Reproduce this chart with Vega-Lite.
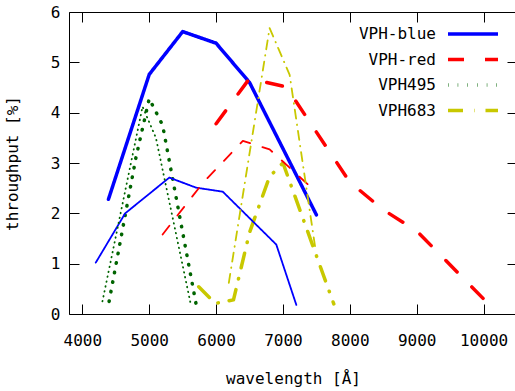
{
  "$schema": "https://vega.github.io/schema/vega-lite/v6.json",
  "width": 448,
  "height": 302,
  "autosize": "none",
  "padding": {"left": 69, "top": 12, "right": 0, "bottom": 77},
  "background": "white",
  "config": {
    "view": {"stroke": "#000", "strokeWidth": 1},
    "font": "DejaVu Sans Mono",
    "axis": {
      "grid": false,
      "domain": false,
      "tickColor": "#000",
      "tickWidth": 1,
      "labelFont": "DejaVu Sans Mono",
      "labelFontSize": 16,
      "labelColor": "#000",
      "titleFont": "DejaVu Sans Mono",
      "titleFontSize": 16,
      "titleFontWeight": "normal",
      "titleColor": "#000"
    }
  },
  "datasets": {
    "curves": [
      {"grating": "VPH-blue", "curve": 1, "wavelength": 4390, "throughput": 2.28},
      {"grating": "VPH-blue", "curve": 1, "wavelength": 5000, "throughput": 4.76},
      {"grating": "VPH-blue", "curve": 1, "wavelength": 5500, "throughput": 5.61},
      {"grating": "VPH-blue", "curve": 1, "wavelength": 6000, "throughput": 5.38},
      {"grating": "VPH-blue", "curve": 1, "wavelength": 6500, "throughput": 4.6},
      {"grating": "VPH-blue", "curve": 1, "wavelength": 7500, "throughput": 1.97},
      {"grating": "VPH-blue", "curve": 2, "wavelength": 4200, "throughput": 1.02},
      {"grating": "VPH-blue", "curve": 2, "wavelength": 4640, "throughput": 2.0},
      {"grating": "VPH-blue", "curve": 2, "wavelength": 5300, "throughput": 2.71},
      {"grating": "VPH-blue", "curve": 2, "wavelength": 5700, "throughput": 2.51},
      {"grating": "VPH-blue", "curve": 2, "wavelength": 6100, "throughput": 2.43},
      {"grating": "VPH-blue", "curve": 2, "wavelength": 6900, "throughput": 1.38},
      {"grating": "VPH-blue", "curve": 2, "wavelength": 7200, "throughput": 0.18},
      {"grating": "VPH-red", "curve": 1, "wavelength": 6000, "throughput": 3.78},
      {"grating": "VPH-red", "curve": 1, "wavelength": 6500, "throughput": 4.68},
      {"grating": "VPH-red", "curve": 1, "wavelength": 7050, "throughput": 4.51},
      {"grating": "VPH-red", "curve": 1, "wavelength": 8000, "throughput": 2.62},
      {"grating": "VPH-red", "curve": 1, "wavelength": 8500, "throughput": 2.07},
      {"grating": "VPH-red", "curve": 1, "wavelength": 9000, "throughput": 1.65},
      {"grating": "VPH-red", "curve": 1, "wavelength": 10000, "throughput": 0.3},
      {"grating": "VPH-red", "curve": 2, "wavelength": 5200, "throughput": 1.58},
      {"grating": "VPH-red", "curve": 2, "wavelength": 5800, "throughput": 2.6},
      {"grating": "VPH-red", "curve": 2, "wavelength": 6400, "throughput": 3.44},
      {"grating": "VPH-red", "curve": 2, "wavelength": 6800, "throughput": 3.27},
      {"grating": "VPH-red", "curve": 2, "wavelength": 7500, "throughput": 2.42},
      {"grating": "VPH495", "curve": 1, "wavelength": 4400, "throughput": 0.25},
      {"grating": "VPH495", "curve": 1, "wavelength": 4800, "throughput": 3.1},
      {"grating": "VPH495", "curve": 1, "wavelength": 5000, "throughput": 4.28},
      {"grating": "VPH495", "curve": 1, "wavelength": 5200, "throughput": 3.75},
      {"grating": "VPH495", "curve": 1, "wavelength": 5700, "throughput": 0.2},
      {"grating": "VPH495", "curve": 2, "wavelength": 4300, "throughput": 0.25},
      {"grating": "VPH495", "curve": 2, "wavelength": 4900, "throughput": 4.12},
      {"grating": "VPH495", "curve": 2, "wavelength": 5100, "throughput": 3.5},
      {"grating": "VPH495", "curve": 2, "wavelength": 5620, "throughput": 0.2},
      {"grating": "VPH683", "curve": 1, "wavelength": 5740, "throughput": 0.54},
      {"grating": "VPH683", "curve": 1, "wavelength": 5990, "throughput": 0.21},
      {"grating": "VPH683", "curve": 1, "wavelength": 6260, "throughput": 0.28},
      {"grating": "VPH683", "curve": 1, "wavelength": 6500, "throughput": 1.62},
      {"grating": "VPH683", "curve": 1, "wavelength": 6800, "throughput": 2.73},
      {"grating": "VPH683", "curve": 1, "wavelength": 7000, "throughput": 3.0},
      {"grating": "VPH683", "curve": 1, "wavelength": 7760, "throughput": 0.2},
      {"grating": "VPH683", "curve": 2, "wavelength": 6190, "throughput": 0.62},
      {"grating": "VPH683", "curve": 2, "wavelength": 6800, "throughput": 5.68},
      {"grating": "VPH683", "curve": 2, "wavelength": 7100, "throughput": 4.75},
      {"grating": "VPH683", "curve": 2, "wavelength": 7490, "throughput": 1.25}
    ]
  },
  "data": {"name": "curves"},
  "layer": [
    {
      "transform": [{"filter": "datum.curve == 1"}],
      "mark": {"type": "line", "strokeWidth": 3.5, "strokeCap": "round", "strokeJoin": "round"},
      "encoding": {
        "x": {
          "field": "wavelength", "type": "quantitative",
          "scale": {"domain": [3800, 10500], "nice": false, "zero": false},
          "axis": {"orient": "bottom", "values": [4000, 5000, 6000, 7000, 8000, 9000, 10000], "format": "d", "tickSize": -10, "labelPadding": 28, "title": "wavelength [Å]", "titlePadding": 22}
        },
        "y": {
          "field": "throughput", "type": "quantitative",
          "scale": {"domain": [0, 6], "nice": false, "zero": true},
          "axis": {"orient": "left", "values": [0, 1, 2, 3, 4, 5, 6], "tickSize": -10, "labelPadding": 19, "title": "throughput [%]", "titlePadding": 30}
        },
        "color": {
          "field": "grating", "type": "nominal",
          "scale": {"domain": ["VPH-blue", "VPH-red", "VPH495", "VPH683"], "range": ["#0000ff", "#ff0000", "#006400", "#c8c800"]},
          "legend": {"title": null, "orient": "none", "legendX": 389.5, "legendY": 7.5, "symbolType": "M-2,0H2", "symbolSize": 625, "symbolStrokeWidth": 3.5, "symbolFillColor": "transparent", "labelFont": "DejaVu Sans Mono", "labelFontSize": 16, "labelColor": "#000", "labelAlign": "right", "labelOffset": -51.5, "rowPadding": 2.5, "padding": 0, "labelLimit": 0}
        },
        "strokeDash": {
          "field": "grating", "type": "nominal",
          "scale": {"domain": ["VPH-blue", "VPH-red", "VPH495", "VPH683"], "range": [[1, 0], [16, 21], [0.5, 9.2], [15, 11, 0.5, 11]]},
          "legend": {"title": null, "orient": "none", "legendX": 389.5, "legendY": 7.5, "symbolType": "M-2,0H2", "symbolSize": 625, "symbolStrokeWidth": 3.5, "symbolFillColor": "transparent", "labelFont": "DejaVu Sans Mono", "labelFontSize": 16, "labelColor": "#000", "labelAlign": "right", "labelOffset": -51.5, "rowPadding": 2.5, "padding": 0, "labelLimit": 0}
        }
      }
    },
    {
      "transform": [{"filter": "datum.curve == 2"}],
      "mark": {"type": "line", "strokeWidth": 1.8, "strokeCap": "round", "strokeJoin": "round"},
      "encoding": {
        "x": {
          "field": "wavelength", "type": "quantitative",
          "scale": {"domain": [3800, 10500], "nice": false, "zero": false},
          "axis": {"orient": "top", "values": [4000, 5000, 6000, 7000, 8000, 9000, 10000], "tickSize": -10, "labels": false, "title": null}
        },
        "y": {
          "field": "throughput", "type": "quantitative",
          "scale": {"domain": [0, 6], "nice": false, "zero": true},
          "axis": {"orient": "right", "values": [0, 1, 2, 3, 4, 5, 6], "tickSize": -10, "labels": false, "title": null}
        },
        "color": {
          "field": "grating", "type": "nominal",
          "scale": {"domain": ["VPH-blue", "VPH-red", "VPH495", "VPH683"], "range": ["#0000ff", "#ff0000", "#006400", "#c8c800"]},
          "legend": null
        },
        "strokeDash": {
          "field": "grating", "type": "nominal",
          "scale": {"domain": ["VPH-blue", "VPH-red", "VPH495", "VPH683"], "range": [[1, 0], [11, 13], [0.5, 4.5], [9, 6, 0.5, 6]]},
          "legend": null
        }
      }
    }
  ],
  "resolve": {
    "scale": {"color": "independent", "strokeDash": "independent"},
    "axis": {"x": "independent", "y": "independent"}
  }
}
